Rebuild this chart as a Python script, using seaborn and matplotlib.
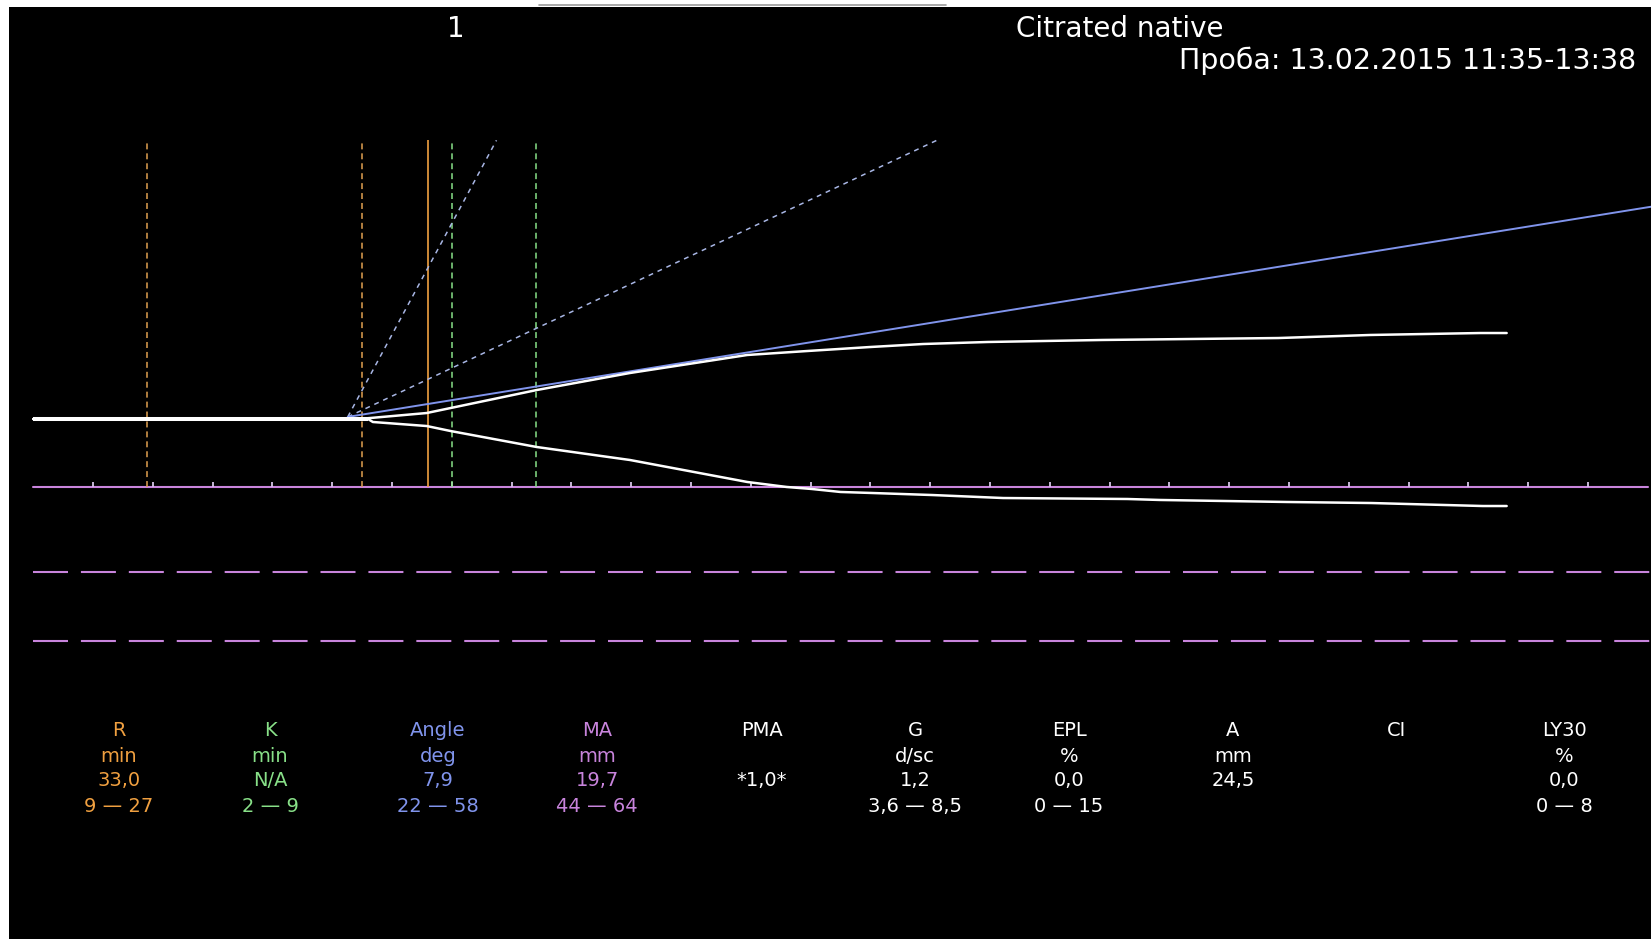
import numpy as np
import pandas as pd
import matplotlib
matplotlib.use("Agg")
import matplotlib.pyplot as plt
import seaborn as sns

# TEG trace: time (min) vs half-amplitude (mm)
t_upper = [0, 27.9, 32.9, 34.9, 42.1, 49.9, 59.7, 64.7, 70.0, 74.4, 79.8, 89.4, 104.1, 111.8, 121.0, 123.2]
a_upper = [0, 0.1, 0.86, 1.58, 4.17, 6.62, 9.21, 9.78, 10.36, 10.79, 11.08, 11.37, 11.65, 12.09, 12.37, 12.37]
t_lower = [0, 28.0, 28.4, 32.9, 34.9, 42.1, 49.9, 59.7, 63.0, 65.1, 67.5, 70.2, 75.2, 81.1, 91.5, 94.2, 104.8, 111.9, 121.2, 123.2]
a_lower = [0, 0, -0.43, -1.01, -1.73, -4.03, -5.90, -9.06, -9.78, -10.07, -10.50, -10.65, -10.94, -11.37, -11.51, -11.65, -11.94, -12.09, -12.52, -12.52]
split_time = 28.0

# parameters
r_value = 33.0
r_range_lines = [9.5, 27.5]
k_range = [2, 9]
angle_value = 7.9
angle_range = [22, 58]
angle_vertex = (26.3, 0.3)
ma_value = 19.7
ma_range = [44, 64]
tick_minutes = list(range(5, 135, 5))
run_end = 135

# result table
names = ["R", "K", "Angle", "MA", "PMA", "G", "EPL", "A", "CI", "LY30"]
units = ["min", "min", "deg", "mm", "", "d/sc", "%", "mm", "", "%"]
values = ["33,0", "N/A", "7,9", "19,7", "*1,0*", "1,2", "0,0", "24,5", "", "0,0"]
ranges = ["9 — 27", "2 — 9", "22 — 58", "44 — 64", "", "3,6 — 8,5", "0 — 15", "", "", "0 — 8"]

ORANGE = "#f0a040"
GREEN = "#88e088"
BLUE = "#8094ec"
PURPLE = "#c884dc"
col_colors = [ORANGE, GREEN, BLUE, PURPLE] + ["white"] * 6

sns.set_theme(style="dark")
plt.rcParams["font.family"] = ["DejaVu Sans"]

W, H = 1651, 939
fig = plt.figure(figsize=(W / 100, H / 100), dpi=100, facecolor="white")

# pixel mapping: x0 px for t=0, px per minute, baseline px, px per mm
X0, SX, Y0, SY = 33.2, 11.96, 419, 6.95
left_px, top_px = 9, 7
ax = fig.add_axes([left_px / W, 0, (W - left_px) / W, (H - top_px) / H])
ax.set_facecolor("black")
ax.set_xlim((left_px - X0) / SX, (W - X0) / SX)
ax.set_ylim((Y0 - H) / SY, (Y0 - top_px) / SY)
ax.set_xticks([])
ax.set_yticks([])
for s in ax.spines.values():
    s.set_visible(False)
ax.grid(False)

ma_y = -ma_value / 2
top_y = 40.1
xmax = ax.get_xlim()[1]

# MA range dashed lines
for m in ma_range:
    ax.plot([0, xmax], [-m / 2, -m / 2], color=PURPLE, lw=1.5,
            linestyle=(0, (16.8, 6.2)))

# MA line with minute ticks
ax.plot([0, run_end], [ma_y, ma_y], color=PURPLE, lw=1.5)
ax.vlines(tick_minutes, ma_y, ma_y + 0.75, color="#d4c4e6", lw=1.3)

# R normal range and R value
ax.vlines(r_range_lines, ma_y, top_y, color="#e0a050", lw=1.1, linestyles=[(0, (3.9, 2.6))])
ax.vlines([r_value], ma_y, top_y, color=ORANGE, lw=1.2)
# K range (after R)
ax.vlines([r_value + k for k in k_range], ma_y, top_y, color=GREEN, lw=1.1,
          linestyles=[(0, (3.9, 2.6))])

# angle lines
vx, vy = angle_vertex
for a in angle_range:
    slope = 2 * np.tan(np.radians(a))
    xe = vx + (top_y - vy) / slope
    ax.plot([vx, xe], [vy, top_y], color="#a8b6e4", lw=1.1, linestyle=(0, (3.2, 3.2)))
slope = 2 * np.tan(np.radians(angle_value))
ax.plot([vx, xmax], [vy, vy + slope * (xmax - vx)], color=BLUE, lw=1.4)

# trace
up = pd.DataFrame({"t": t_upper, "a": a_upper})
lo = pd.DataFrame({"t": t_lower, "a": a_lower})
sns.lineplot(data=up, x="t", y="a", ax=ax, color="white", lw=1.8, sort=False)
sns.lineplot(data=lo, x="t", y="a", ax=ax, color="white", lw=1.8, sort=False)
ax.plot([0, split_time], [0, 0], color="white", lw=2.9, solid_capstyle="butt")
ax.set_xlabel("")
ax.set_ylabel("")


def fx(px):
    return px / W


def fy(py):
    return 1 - py / H


# top strip
fig.add_artist(plt.Line2D([fx(539), fx(946)], [fy(5), fy(5)], color="#9a9a9a", lw=1.2))

# header
fig.text(fx(456), fy(29), "1", color="white", fontsize=20, ha="center", va="center")
fig.text(fx(1016), fy(29), "Citrated native", color="white", fontsize=20, ha="left", va="center")
fig.text(fx(1636), fy(61), "Проба: 13.02.2015 11:35-13:38", color="white", fontsize=20.5,
         ha="right", va="center")

# table
col_x = [119, 270, 438, 597, 762, 915, 1069, 1233, 1396, 1564]
row_y = [730, 756, 781, 807]
for i, name in enumerate(names):
    c = col_colors[i]
    for j, txt in enumerate([name, units[i], values[i], ranges[i]]):
        if not txt:
            continue
        fig.text(fx(col_x[i]), fy(row_y[j]), txt, color=c, fontsize=14,
                 ha="center", va="center")

fig.savefig("out.png", dpi=100, facecolor=fig.get_facecolor())
